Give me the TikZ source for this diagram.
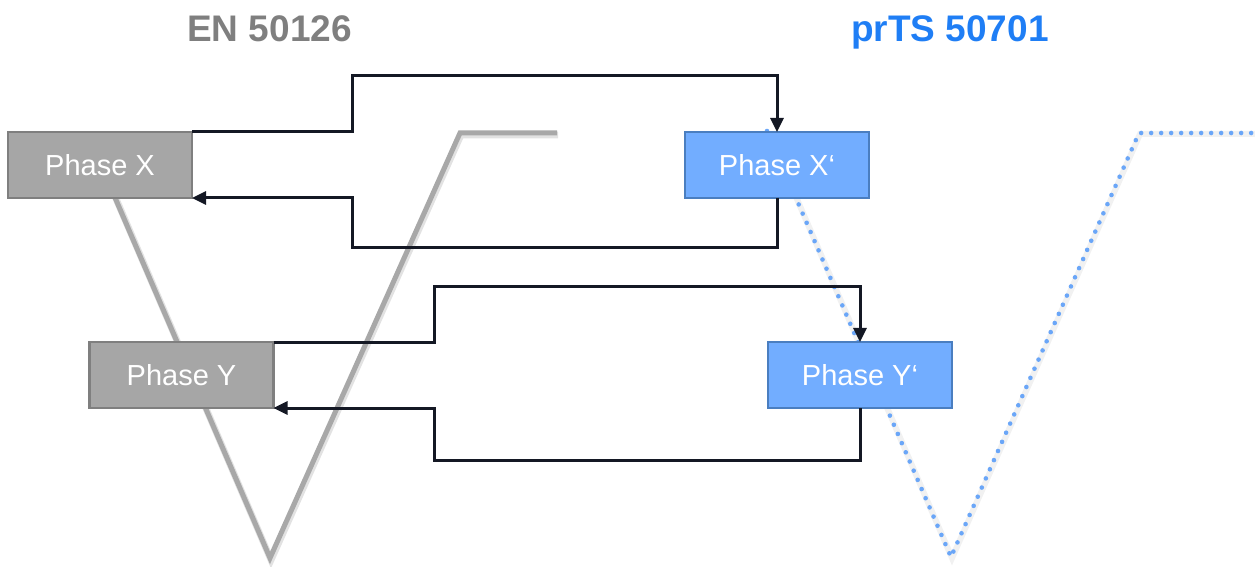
\documentclass[tikz,border=0pt]{standalone}
\usepackage{fontspec}
\setmainfont{Liberation Sans}
\usetikzlibrary{arrows.meta}
\definecolor{titlegray}{HTML}{7F7F7F}
\definecolor{titleblue}{HTML}{1F7EF5}
\definecolor{boxgray}{HTML}{A6A6A6}
\definecolor{boxgrayline}{HTML}{7F7F7F}
\definecolor{boxblue}{HTML}{72ADFF}
\definecolor{boxblueline}{HTML}{4A7EC0}
\definecolor{vgray}{HTML}{A8A8A8}
\definecolor{vblue}{HTML}{6AA6F8}
\definecolor{conn}{HTML}{141824}
\tikzset{
  phasebox/.style={draw, line width=1.3pt, minimum width=92pt, minimum height=33pt,
    inner sep=0pt, outer sep=0pt, text=white, font=\fontsize{14.5}{17}\selectfont},
  graybox/.style={phasebox, fill=boxgray, draw=boxgrayline},
  bluebox/.style={phasebox, fill=boxblue, draw=boxblueline},
  titletext/.style={font=\fontsize{18.5}{22}\selectfont\bfseries, anchor=base, inner sep=0pt},
  conn/.style={draw=conn, line width=1.5pt, line join=miter},
  arr/.style={conn, -{Triangle[length=7pt,width=6.5pt]}},
  vshadow/.style={draw=black!25, line width=3.4pt, opacity=0.45, line join=miter},
  vline/.style={draw=vgray, line width=2.5pt, line join=miter},
  vdots/.style={draw=vblue, line width=2.3pt, line cap=round, dash pattern=on 0pt off 5pt}
}
\begin{document}
\begin{tikzpicture}[x=0.5pt,y=-0.5pt]
\useasboundingbox (0,0) rectangle (1255,567);
% gray V
\draw[vshadow] (102,166) -- (271,560) -- (461,135) -- (558,135);
\draw[vline] (101,165) -- (270,558) -- (460,133) -- (557,133);
% blue dotted V
\draw[vshadow, draw=black!12, line width=3pt] (768,132) -- (952,558) -- (1140,134) -- (1255,134);
\draw[vdots] (767,131) -- (951,557) -- (1139,133) -- (1255,133);
% titles
\node[titletext, text=titlegray] (t1) at (269.5,42) {EN 50126};
\node[titletext, text=titleblue] (t2) at (950,42) {prTS 50701};
% boxes
\node[graybox] (px) at (100,165) {Phase X};
\node[bluebox] (pxp) at (777,165) {Phase X‘};
\node[graybox] (py) at (181.5,375) {Phase Y};
\node[bluebox] (pyp) at (860,375) {Phase Y‘};
% connectors
\draw[arr] (px.north east) -| (352,76) -| (pxp.north);
\draw[arr] (pxp.south) |- (352,248) |- (px.south east);
\draw[arr] (py.north east) -| (434,287) -| (pyp.north);
\draw[arr] (pyp.south) |- (434,460) |- (py.south east);
\end{tikzpicture}
\end{document}
